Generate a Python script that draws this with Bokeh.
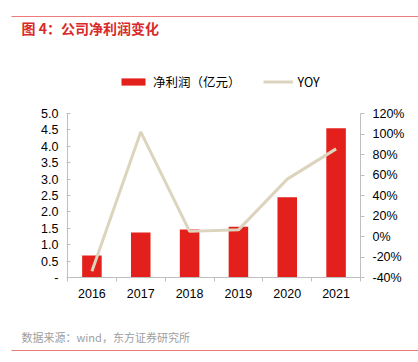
from bokeh.plotting import figure
from bokeh.layouts import column, row
from bokeh.models import (Range1d, LinearAxis, FixedTicker, PrintfTickFormatter,
                          NumeralTickFormatter, Legend, LegendItem, Label, BoxAnnotation,
                          ColumnDataSource)
from bokeh.embed import file_html
from bokeh.resources import INLINE

years = ["2016", "2017", "2018", "2019", "2020", "2021"]
profit = [0.67, 1.37, 1.46, 1.55, 2.45, 4.55]          # 净利润（亿元）
yoy = [-34, 102, 5, 6.5, 56, 85.5]                     # YOY (%)
left_ticks = [0, 0.5, 1.0, 1.5, 2.0, 2.5, 3.0, 3.5, 4.0, 4.5, 5.0]
right_ticks = [-40, -20, 0, 20, 40, 60, 80, 100, 120]
title_text = "图 4：公司净利润变化"
source_text = "数据来源：wind，东方证券研究所"
series_names = ["净利润（亿元）", "YOY"]

xpos = [i + 1 for i in range(len(years))]
src = ColumnDataSource(dict(x=xpos, profit=profit, yoy=yoy))

W = 418
RED = "#e3201b"
BEIGE = "#ddd4be"
GRAY = "#bfbfbf"
RULE = "#ee7b7b"
NUMFONT = "Liberation Sans"
CJK = "Noto Sans CJK SC"


def blank(h):
    f = figure(width=W, height=h, output_backend="svg", toolbar_location=None,
               x_range=Range1d(0, W), y_range=Range1d(0, h),
               x_axis_type=None, y_axis_type=None, min_border=0)
    f.outline_line_color = None
    f.grid.grid_line_color = None
    return f


# ---- top: title + legend ----
top = blank(100)
top.add_layout(BoxAnnotation(left=11, right=W, bottom=83.5, top=84.5,
                             fill_color=RULE, fill_alpha=1, line_color=None))
top.add_layout(Label(x=21, y=73, text=title_text, text_font=CJK, text_font_size="14px",
                     text_font_style="bold", text_color="#d92a2a", text_baseline="middle"))
# legend proxies (same series, hidden; only their legend swatches are shown)
lb = top.vbar(x="x", top="profit", width=0.4, source=src, fill_color=RED,
              line_color=None, visible=False)
ll = top.line(x="x", y="yoy", source=src, line_color=BEIGE, line_width=3, visible=False)
legend = Legend(items=[LegendItem(label=series_names[0], renderers=[lb]),
                       LegendItem(label=series_names[1], renderers=[ll])],
                orientation="horizontal", location=(118, 9),
                border_line_color=None, background_fill_alpha=0,
                inactive_fill_alpha=0,
                padding=0, margin=0, spacing=22, label_standoff=5,
                glyph_width=30, glyph_height=9, label_height=16,
                label_text_font=CJK, label_text_font_size="12.5px",
                label_text_color="#000000")
top.add_layout(legend, "center")

# ---- main chart ----
p = figure(width=W, height=218, output_backend="svg", toolbar_location=None,
           x_range=Range1d(0.5, len(years) + 0.5), y_range=Range1d(0, 5),
           min_border_left=67, min_border_right=58, min_border_top=13,
           min_border_bottom=41)
p.outline_line_color = None
p.grid.grid_line_color = None
p.extra_y_ranges = {"yoy": Range1d(-40, 120)}

bars = p.vbar(x="x", top="profit", width=0.4, source=src, fill_color=RED, line_color=None)
line = p.line(x="x", y="yoy", source=src, y_range_name="yoy", line_color=BEIGE, line_width=3)

xa = p.xaxis[0]
xa.ticker = FixedTicker(ticks=xpos, minor_ticks=[i + 0.5 for i in range(len(years) + 1)])
xa.major_label_overrides = {x: y for x, y in zip(xpos, years)}
xa.major_tick_line_color = None
xa.minor_tick_line_color = GRAY
xa.minor_tick_out = 4
xa.minor_tick_in = 0
xa.axis_line_color = GRAY
xa.major_label_text_font = NUMFONT
xa.major_label_text_font_size = "12.5px"
xa.major_label_text_color = "#000000"
xa.major_label_standoff = 5

ya = p.yaxis[0]
ya.ticker = FixedTicker(ticks=left_ticks, minor_ticks=[])
ya.formatter = NumeralTickFormatter(format="0.0")
ya.major_label_overrides = {0: "-"}
ya.axis_line_color = GRAY
ya.major_tick_line_color = GRAY
ya.major_tick_in = 3
ya.major_tick_out = 1
ya.minor_tick_line_color = None
ya.major_label_text_font = NUMFONT
ya.major_label_text_font_size = "12.5px"
ya.major_label_text_color = "#000000"
ya.major_label_standoff = 8

ra = LinearAxis(y_range_name="yoy", ticker=FixedTicker(ticks=right_ticks, minor_ticks=[]),
                formatter=PrintfTickFormatter(format="%d%%"))
ra.axis_line_color = GRAY
ra.major_tick_line_color = GRAY
ra.major_tick_in = 0
ra.major_tick_out = 4
ra.minor_tick_line_color = None
ra.major_label_text_font = NUMFONT
ra.major_label_text_font_size = "12.5px"
ra.major_label_text_color = "#000000"
ra.major_label_standoff = 8
p.add_layout(ra, "right")

# ---- bottom: source ----
bot = blank(44)
bot.add_layout(Label(x=21, y=26, text=source_text, text_font=CJK, text_font_size="11px",
                     text_color="#9e9e9e", text_baseline="middle"))
bot.add_layout(BoxAnnotation(left=11, right=W, bottom=11.5, top=12.5,
                             fill_color=RULE, fill_alpha=1, line_color=None))

layout = column(row(top), p, row(bot), spacing=0)
open("out.html", "w").write(file_html(layout, INLINE))
